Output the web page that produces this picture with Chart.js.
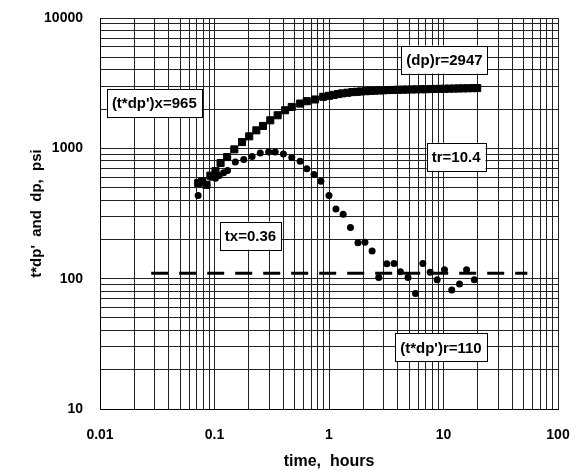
<!DOCTYPE html>
<html>
<head>
<meta charset="utf-8">
<script src="https://cdn.jsdelivr.net/npm/chart.js@4"></script>
<style>
  body { margin: 0; background: #fff; }
</style>
</head>
<body>
<canvas id="grafica" width="584" height="475"></canvas>
<script>
// Datos
const tiempoDp = [0.072, 0.078, 0.085, 0.092, 0.102, 0.113, 0.129, 0.149, 0.174, 0.201, 0.232, 0.265, 0.307, 0.356, 0.414, 0.473, 0.56, 0.64, 0.755, 0.89,
    1.0, 1.1, 1.2, 1.3, 1.45, 1.6, 1.75, 1.9, 2.1, 2.3, 2.5, 2.75, 3.0, 3.3, 3.6, 4.0, 4.4, 4.8, 5.3, 5.8, 6.4, 7.0, 7.7, 8.5, 9.3, 10.2, 11.2, 12.3, 13.5, 14.8, 16.3, 17.9, 19.7];
const dp = [541, 560, 525, 617, 668, 771, 857, 982, 1117, 1236, 1374, 1485, 1641, 1794, 1960, 2078, 2206, 2300, 2370, 2485,
    2530, 2570, 2610, 2640, 2670, 2700, 2715, 2730, 2745, 2760, 2770, 2780, 2790, 2800, 2805, 2815, 2820, 2825, 2830, 2835, 2840, 2845, 2850, 2855, 2860, 2865, 2870, 2875, 2880, 2885, 2890, 2895, 2900];

const tiempoDer = [0.072, 0.079, 0.086, 0.094, 0.102, 0.11, 0.12, 0.13, 0.152, 0.18, 0.213, 0.251, 0.297, 0.339, 0.40, 0.473, 0.56, 0.64, 0.74, 0.85,
    1.0, 1.15, 1.33, 1.54, 1.79, 2.06, 2.38, 2.72, 3.2, 3.7, 4.2, 4.9, 5.7, 6.6, 7.65, 8.8, 10.2, 11.8, 13.8, 15.9, 18.6];
const derivada = [435, 560, 520, 600, 590, 620, 650, 677, 785, 822, 867, 920, 937, 937, 905, 852, 795, 698, 631, 560,
    435, 343, 312, 247, 189, 190, 163, 102, 130, 131, 113, 102, 77, 131, 112, 98, 117, 82, 91, 117, 98];

// Linea de estabilizacion (t*dp')r
const lineaX = [0.028, 54];
const lineaY = [110, 110];

// Ejes
const ticksX = [0.01, 0.1, 1, 10, 100];
const ticksY = [10, 100, 1000, 10000];
const multiplos = [1, 2, 3, 4, 5, 6, 7, 8, 9];

// Etiquetas en cajas
const etiquetas = [
    { texto: "(t*dp')x=965", x: 0.0298, y: 2220 },
    { texto: "(dp)r=2947", x: 10.2, y: 4800 },
    { texto: "tr=10.4", x: 12.9, y: 861 },
    { texto: "tx=0.36", x: 0.206, y: 214 },
    { texto: "(t*dp')r=110", x: 9.5, y: 29.7 }
];

function gridTicks(mayores) {
    const vals = [];
    mayores.forEach((d, i) => {
        if (i === mayores.length - 1) { vals.push(d); return; }
        multiplos.forEach(m => vals.push(m === 1 ? d : parseFloat((m * d).toPrecision(6))));
    });
    return vals.map(v => ({ value: v }));
}

const cajas = {
    id: 'cajas',
    afterDatasetsDraw(chart) {
        const ctx = chart.ctx;
        const sx = chart.scales.x, sy = chart.scales.y;
        ctx.save();
        ctx.font = 'bold 15px "Liberation Sans", Arial, sans-serif';
        ctx.textAlign = 'center';
        ctx.textBaseline = 'middle';
        etiquetas.forEach(e => {
            const cx = sx.getPixelForValue(e.x);
            const cy = sy.getPixelForValue(e.y);
            const w = ctx.measureText(e.texto).width + 10;
            const h = 28;
            ctx.fillStyle = '#fff';
            ctx.fillRect(cx - w / 2, cy - h / 2, w, h);
            ctx.strokeStyle = '#000';
            ctx.lineWidth = 1;
            ctx.strokeRect(Math.round(cx - w / 2) + 0.5, Math.round(cy - h / 2) + 0.5, Math.round(w), h);
            ctx.fillStyle = '#000';
            ctx.fillText(e.texto, cx, cy + 1);
        });
        ctx.restore();
    }
};

const fuente = { family: '"Liberation Sans", Arial, sans-serif', weight: 'bold', size: 14 };

new Chart(document.getElementById('grafica'), {
    type: 'scatter',
    data: {
        datasets: [
            {
                label: 'dp',
                data: tiempoDp.map((t, i) => ({ x: t, y: dp[i] })),
                pointStyle: 'rect',
                pointRadius: 5,
                backgroundColor: '#000',
                borderColor: '#000',
                borderWidth: 1
            },
            {
                label: "t*dp'",
                data: tiempoDer.map((t, i) => ({ x: t, y: derivada[i] })),
                pointStyle: 'circle',
                pointRadius: 3.5,
                backgroundColor: '#000',
                borderColor: '#000',
                borderWidth: 0
            },
            {
                type: 'line',
                label: "(t*dp')r",
                data: lineaX.map((t, i) => ({ x: t, y: lineaY[i] })),
                borderColor: '#000',
                borderWidth: 3,
                borderDash: [17, 11],
                pointRadius: 0,
                fill: false
            }
        ]
    },
    options: {
        responsive: false,
        animation: false,
        layout: { padding: { left: 0, right: 26, top: 18, bottom: 0 } },
        plugins: {
            legend: { display: false },
            tooltip: { enabled: false }
        },
        scales: {
            x: {
                type: 'logarithmic',
                min: 0.01,
                max: 100,
                afterBuildTicks: s => { s.ticks = gridTicks(ticksX); },
                afterFit: s => { s.height = 66; s.paddingLeft = 0; s.paddingRight = 0; },
                grid: { color: '#222', lineWidth: 1, drawTicks: false },
                border: { color: '#000', width: 1 },
                ticks: {
                    autoSkip: false,
                    maxRotation: 0,
                    padding: 18,
                    color: '#000',
                    font: fuente,
                    callback: v => ticksX.includes(v) ? String(v) : ''
                },
                title: {
                    display: true,
                    text: 'time,  hours',
                    color: '#000',
                    font: { family: '"Liberation Sans", Arial, sans-serif', weight: 'bold', size: 16 },
                    padding: { top: 0, bottom: 4 }
                }
            },
            y: {
                type: 'logarithmic',
                min: 10,
                max: 10000,
                afterBuildTicks: s => { s.ticks = gridTicks(ticksY); },
                afterFit: s => { s.width = 100; s.paddingTop = 0; s.paddingBottom = 0; },
                grid: { color: '#222', lineWidth: 1, drawTicks: false },
                border: { color: '#000', width: 1 },
                ticks: {
                    autoSkip: false,
                    padding: 17,
                    color: '#000',
                    font: fuente,
                    callback: v => ticksY.includes(v) ? String(v) : ''
                },
                title: {
                    display: true,
                    text: "t*dp'  and  dp,  psi",
                    color: '#000',
                    font: { family: '"Liberation Sans", Arial, sans-serif', weight: 'bold', size: 15 },
                    padding: { top: 28, bottom: 0 }
                }
            }
        }
    },
    plugins: [cajas]
});
</script>
</body>
</html>
